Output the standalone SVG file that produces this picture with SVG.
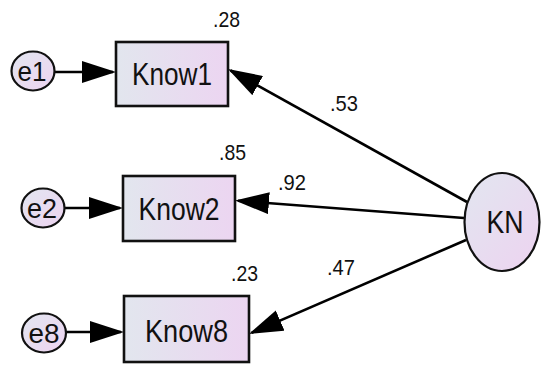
<svg xmlns="http://www.w3.org/2000/svg" width="541" height="368" viewBox="0 0 541 368">
<defs>
<linearGradient id="gBox" x1="0" y1="0" x2="1" y2="0">
<stop offset="0" stop-color="#e2e6ee"/>
<stop offset="1" stop-color="#ecd5f1"/>
</linearGradient>
<linearGradient id="gEll" x1="0" y1="0" x2="1" y2="1">
<stop offset="0" stop-color="#e2e6f0"/>
<stop offset="1" stop-color="#edd3f0"/>
</linearGradient>
<marker id="arr" markerUnits="userSpaceOnUse" viewBox="0 0 34 22" markerWidth="34" markerHeight="22" refX="31" refY="11" orient="auto">
<path d="M0,0 L34,11 L0,22 Z" fill="#000"/>
</marker>
</defs>
<style>
.box{fill:url(#gBox);stroke:#111;stroke-width:2.6}
.ell{fill:url(#gEll);stroke:#111;stroke-width:2.2}
.lbl{font-family:"Liberation Sans Narrow","Liberation Sans",Arial,sans-serif;fill:#111;text-anchor:middle}
.big{font-size:31px}
.err{font-size:28px}
.num{font-family:"Liberation Sans Narrow","Liberation Sans",Arial,sans-serif;font-size:22px;fill:#111}
.con{stroke:#000;stroke-width:2.6;fill:none;marker-end:url(#arr)}
</style>
<g id="connectors">
<line class="con" x1="55" y1="72" x2="113" y2="72"/>
<line class="con" x1="65" y1="208" x2="120" y2="208"/>
<line class="con" x1="66" y1="332" x2="121" y2="332"/>
<line class="con" x1="467" y1="202" x2="230.6" y2="70.5"/>
<line class="con" x1="464" y1="218" x2="238" y2="200.8"/>
<line class="con" x1="466" y1="240" x2="251.7" y2="332.8"/>
<text class="num" x="330" y="111" textLength="28" lengthAdjust="spacingAndGlyphs">.53</text>
<text class="num" x="278" y="190" textLength="28" lengthAdjust="spacingAndGlyphs">.92</text>
<text class="num" x="327" y="275" textLength="28" lengthAdjust="spacingAndGlyphs">.47</text>
</g>
<g id="e1">
<ellipse class="ell" cx="33" cy="71" rx="21.5" ry="19.5"/>
<text class="lbl err" x="32" y="81" textLength="29" lengthAdjust="spacingAndGlyphs">e1</text>
</g>
<g id="e2">
<ellipse class="ell" cx="43" cy="208" rx="21.5" ry="19.5"/>
<text class="lbl err" x="42" y="218" textLength="30" lengthAdjust="spacingAndGlyphs">e2</text>
</g>
<g id="e8">
<ellipse class="ell" cx="44" cy="333" rx="22" ry="19.5"/>
<text class="lbl err" x="44" y="343" textLength="31" lengthAdjust="spacingAndGlyphs">e8</text>
</g>
<g id="Know1">
<rect class="box" x="116" y="42" width="112" height="64"/>
<text class="lbl big" x="172" y="85" textLength="80" lengthAdjust="spacingAndGlyphs">Know1</text>
<text class="num" x="213" y="27" textLength="27" lengthAdjust="spacingAndGlyphs">.28</text>
</g>
<g id="Know2">
<rect class="box" x="123" y="176" width="112" height="65"/>
<text class="lbl big" x="179" y="220" textLength="81" lengthAdjust="spacingAndGlyphs">Know2</text>
<text class="num" x="219" y="160" textLength="27" lengthAdjust="spacingAndGlyphs">.85</text>
</g>
<g id="Know8">
<rect class="box" x="124" y="296" width="125" height="66"/>
<text class="lbl big" x="186.5" y="342" textLength="83" lengthAdjust="spacingAndGlyphs">Know8</text>
<text class="num" x="231" y="281" textLength="27" lengthAdjust="spacingAndGlyphs">.23</text>
</g>
<g id="KN">
<ellipse class="ell" cx="502" cy="222" rx="37.5" ry="49"/>
<text class="lbl big" x="505" y="233" textLength="37" lengthAdjust="spacingAndGlyphs">KN</text>
</g>
</svg>
